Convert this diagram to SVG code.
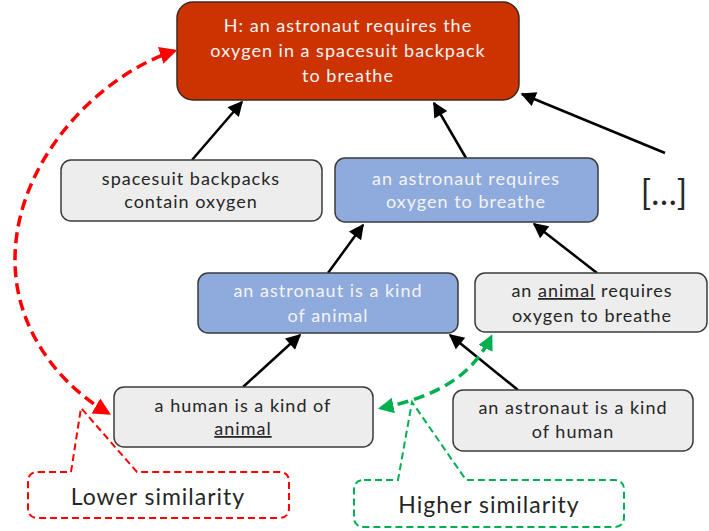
<svg xmlns="http://www.w3.org/2000/svg" width="709" height="531" viewBox="0 0 709 531">
  <style>
    .box { stroke: #3b3b3b; stroke-width: 1.5; }
    .gray { fill: #ededed; }
    .blue { fill: #8faadc; }
    .hyp { fill: #cc3300; stroke: #3b2a20; stroke-width: 1.5; }
    text { font-family: Lato, "Open Sans", "Liberation Sans", sans-serif; font-size: 18px; letter-spacing: 1px; text-anchor: middle; }
    .dark { fill: #262626; }
    .light { fill: #f4f4f4; }
    .big { font-size: 23px; }
    .edge { stroke: #000; stroke-width: 2.5; fill: none; marker-end: url(#arrow); }
    .red { stroke: #ff0000; stroke-width: 3.5; stroke-dasharray: 11 6; fill: none; marker-start: url(#redhead); marker-end: url(#redhead); }
    .green { stroke: #00b050; stroke-width: 3.5; stroke-dasharray: 11 6; fill: none; marker-start: url(#greenhead); marker-end: url(#greenhead); }
    .callout-red { fill: #fff; stroke: #ff0000; stroke-width: 2; stroke-dasharray: 7 4; }
    .callout-green { fill: #fff; stroke: #00b050; stroke-width: 2; stroke-dasharray: 7 4; }
  </style>
  <defs>
    <marker id="arrow" viewBox="0 0 10 10" refX="9" refY="5" markerWidth="7" markerHeight="6" markerUnits="strokeWidth" orient="auto">
      <path d="M0,0 L10,5 L0,10 z" fill="#000"/>
    </marker>
    <marker id="redhead" viewBox="0 0 10 10" refX="8" refY="5" markerWidth="5" markerHeight="5" markerUnits="strokeWidth" orient="auto-start-reverse">
      <path d="M0,0 L10,5 L0,10 z" fill="#ff0000"/>
    </marker>
    <marker id="greenhead" viewBox="0 0 10 10" refX="8" refY="5" markerWidth="4.5" markerHeight="4.5" markerUnits="strokeWidth" orient="auto-start-reverse">
      <path d="M0,0 L10,5 L0,10 z" fill="#00b050"/>
    </marker>
  </defs>

  <!-- support edges -->
  <g id="connectors">
    <line class="edge" x1="192" y1="160" x2="242" y2="102"/>
    <line class="edge" x1="466" y1="158" x2="434" y2="103"/>
    <line class="edge" x1="665" y1="153" x2="522" y2="94"/>
    <line class="edge" x1="328" y1="273" x2="363" y2="225"/>
    <line class="edge" x1="597" y1="273" x2="534" y2="224"/>
    <line class="edge" x1="243" y1="387" x2="300" y2="335"/>
    <line class="edge" x1="518" y1="390" x2="450" y2="335"/>
  </g>

  <!-- hypothesis -->
  <g id="node-h">
    <rect class="hyp" x="177" y="2" width="342" height="98" rx="16"/>
    <text class="light" x="348" y="32">H: an astronaut requires the</text>
    <text class="light" x="348" y="57">oxygen in a spacesuit backpack</text>
    <text class="light" x="348" y="82">to breathe</text>
  </g>

  <g id="node-backpacks">
    <rect class="box gray" x="61" y="160" width="261" height="61" rx="10"/>
    <text class="dark" x="191" y="185">spacesuit backpacks</text>
    <text class="dark" x="191" y="208">contain oxygen</text>
  </g>

  <g id="node-requires">
    <rect class="box blue" x="335" y="158" width="263" height="64" rx="10"/>
    <text class="light" x="466" y="185">an astronaut requires</text>
    <text class="light" x="466" y="208">oxygen to breathe</text>
  </g>

  <g id="node-more">
    <text class="dark" x="664" y="205" style="font-size:34px; letter-spacing:0">[…]</text>
  </g>

  <g id="node-kind-animal">
    <rect class="box blue" x="198" y="273" width="260" height="60" rx="10"/>
    <text class="light" x="328" y="297">an astronaut is a kind</text>
    <text class="light" x="328" y="322">of animal</text>
  </g>

  <g id="node-animal-requires">
    <rect class="box gray" x="475" y="273" width="232" height="59" rx="10"/>
    <text class="dark" x="592" y="297">an <tspan text-decoration="underline">animal</tspan> requires</text>
    <text class="dark" x="592" y="322">oxygen to breathe</text>
  </g>

  <g id="node-human-animal">
    <rect class="box gray" x="114" y="387" width="259" height="60" rx="10"/>
    <text class="dark" x="243" y="412">a human is a kind of</text>
    <text class="dark" x="243" y="435"><tspan text-decoration="underline">animal</tspan></text>
  </g>

  <g id="node-astronaut-human">
    <rect class="box gray" x="453" y="390" width="240" height="61" rx="10"/>
    <text class="dark" x="573" y="414">an astronaut is a kind</text>
    <text class="dark" x="573" y="438">of human</text>
  </g>

  <!-- similarity links -->
  <g id="similarity">
    <path class="red" d="M108,413 C60,385 15,330 15,260 C15,160 100,75 174,51"/>
    <path class="green" d="M381,408 C430,398 470,380 491,337"/>
  </g>

  <g id="label-lower">
    <path class="callout-red" d="M38,472 L71,472 L81,408 L137,472 L279,472 Q289,472 289,482 L289,508 Q289,518 279,518 L38,518 Q28,518 28,508 L28,482 Q28,472 38,472 z"/>
    <text class="dark big" x="158" y="505">Lower similarity</text>
  </g>

  <g id="label-higher">
    <path class="callout-green" d="M364,480 L398,480 L412,402 L466,480 L614,480 Q624,480 624,490 L624,517 Q624,527 614,527 L364,527 Q354,527 354,517 L354,490 Q354,480 364,480 z"/>
    <text class="dark big" x="489" y="513">Higher similarity</text>
  </g>
</svg>
